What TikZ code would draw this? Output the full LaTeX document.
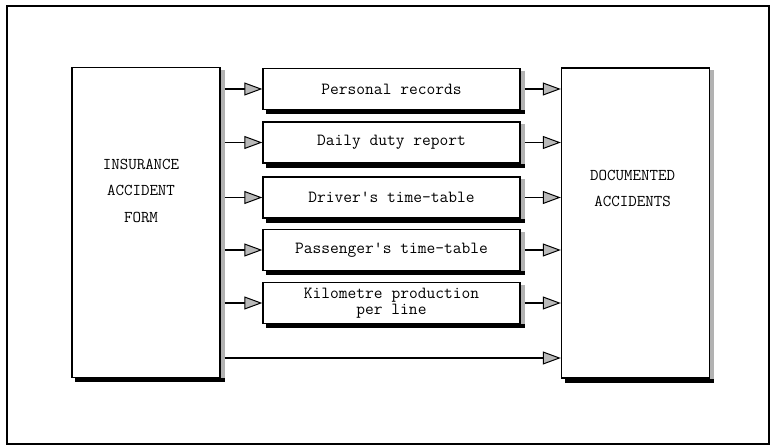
\documentclass[tikz,border=0pt]{standalone}
\usepackage{fontspec}
\usetikzlibrary{arrows.meta,backgrounds,calc}
\begin{document}
\begin{tikzpicture}[x=1pt,y=-1pt,
  box/.style={draw, line width=1.4pt, fill=white, rectangle, inner sep=0pt,
    font=\ttfamily\fontsize{17}{16.5}\selectfont, align=center},
  midbox/.style={box, minimum width=257pt, minimum height=41pt},
  bigbox/.style={box, minimum width=148pt, minimum height=310pt},
  tag/.style={font=\ttfamily\fontsize{16.5}{26.5}\selectfont, align=center, inner sep=0pt},
  conn/.style={line width=1.3pt, -{Triangle[length=18pt,width=13pt,fill=gray!55,line width=1pt]}},
  shadowside/.style={fill=gray!60},
  shadowfoot/.style={fill=black}
]
\useasboundingbox (0,0) rectangle (770,446);

% outer frame
\draw[line width=1.5pt] (7,6) rectangle (769,444);

% source and target
\node[bigbox] (form) at (146,222.5) {};
\node[tag] (formtxt) at (141,190.5) {INSURANCE\\ACCIDENT\\FORM};
\node[bigbox] (docs) at (635.5,223) {};
\node[tag] (docstxt) at (632.5,188.5) {DOCUMENTED\\ACCIDENTS};

% intermediate records
\node[midbox] (rec1) at (391.5,89) {Personal records};
\node[midbox] (rec2) at (391.5,142.5) {Daily duty report};
\node[midbox] (rec3) at (391.5,197.5) {Driver's time-table};
\node[midbox] (rec4) at (391.5,250) {Passenger's time-table};
\node[midbox] (rec5) at (391.5,303) {Kilometre production\\per line};

% drop shadows behind all boxes
\begin{scope}[on background layer]
  \foreach \n in {form,docs,rec1,rec2,rec3,rec4,rec5} {
    \fill[shadowside] ($(\n.north east)+(0,3)$) rectangle ($(\n.south east)+(4,4)$);
    \fill[shadowfoot] ($(\n.south west)+(4,0)$) rectangle ($(\n.south east)+(4,4)$);
  }
\end{scope}

% connectors
\foreach \n in {rec1,rec2,rec3,rec4,rec5} {
  \draw[conn] ($(form.east |- \n.west)+(4,0)$) -- (\n.west);
  \draw[conn] ($(\n.east)+(4,0)$) -- (docs.west |- \n.east);
}
\coordinate (direct) at ($(form.east)+(4,135.5)$);
\draw[conn] (direct) -- (docs.west |- direct);
\end{tikzpicture}
\end{document}
